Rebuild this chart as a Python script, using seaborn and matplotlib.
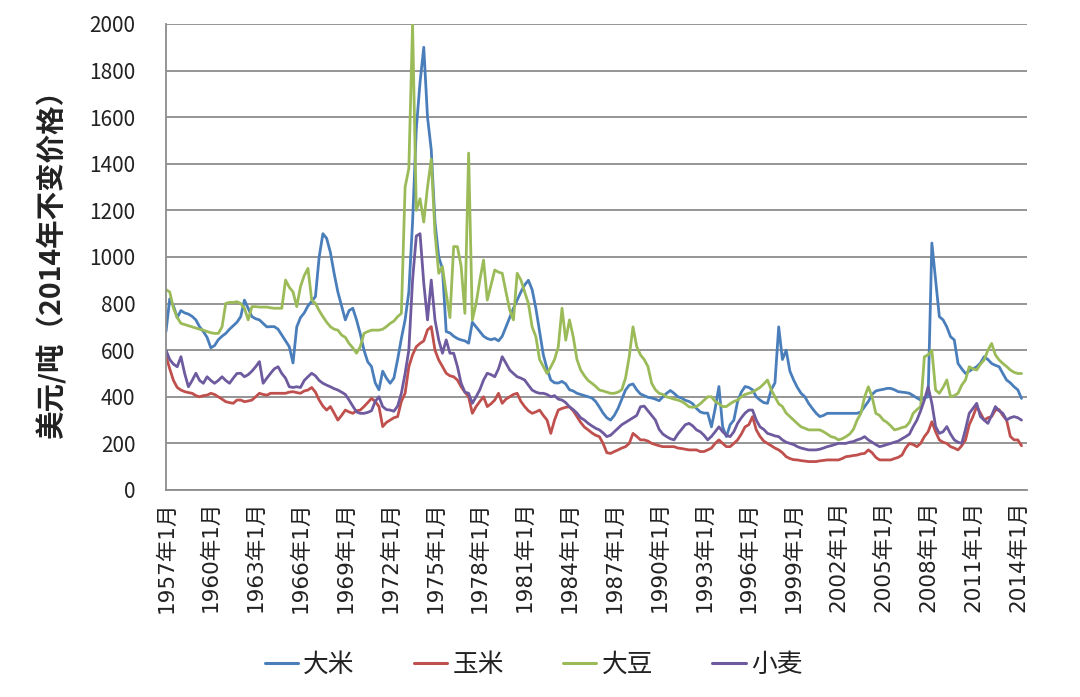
import numpy as np
import pandas as pd
import matplotlib
matplotlib.use("Agg")
import matplotlib.pyplot as plt
from matplotlib.lines import Line2D
import seaborn as sns

# ---------------- data (quarterly, starting 1957 Q1) ----------------
start_year = 1957
rice = [
    680, 820, 790, 740,   770, 760, 755, 745,   730, 700, 680, 655,   610, 620, 645, 660,
    672, 690, 705, 720,   744, 815, 780, 744,   735, 730, 715, 700,   701, 701, 690, 665,
    640, 615, 545, 700,   740, 760, 790, 810,   830, 1000, 1100, 1080, 1020, 930, 850, 790,
    730, 770, 780, 730,   670, 600, 550, 530,   460, 430, 510, 480,   458, 480, 560, 650,
    730, 850, 1150, 1550, 1750, 1900, 1600, 1460, 1150, 1000, 950, 680, 674, 660, 650, 644,
    640, 630, 720, 700,   680, 660, 650, 645,   650, 640, 660, 700,   740, 780, 815, 850,
    880, 900, 860, 780,   680, 580, 520, 472,   460, 459, 466, 455,   430, 425, 415, 410,
    405, 400, 395, 380,   356, 330, 310, 300,   320, 350, 390, 429,   450, 455, 430, 412,
    405, 398, 395, 390,   383, 400, 415, 427,   415, 400, 395, 385,   380, 370, 350, 335,
    330, 330, 271, 350,   444, 271, 229, 280,   300, 380, 420, 444,   440, 430, 400, 386,
    375, 372, 430, 460,   700, 560, 600, 510,   472, 440, 415, 400,   372, 350, 330, 315,
    320, 329, 329, 329,   329, 329, 329, 329,   329, 329, 335, 358,   380, 410, 425, 429,
    432, 436, 436, 430,   422, 420, 418, 415,   405, 395, 386, 395,   400, 1060, 901, 744,
    730, 700, 658, 644,   543, 520, 500, 510,   520, 529, 545, 572,   560, 543, 535, 529,
    500, 472, 460, 443,   430, 393,
]
maize = [
    575, 520, 470, 440,   429, 422, 418, 415,   405, 400, 405, 407,   415, 410, 400, 390,
    379, 375, 372, 386,   386, 379, 382, 386,   400, 415, 410, 407,   415, 415, 415, 415,
    415, 420, 422, 418,   415, 425, 429, 440,   420, 386, 360, 343,   358, 330, 300, 320,
    343, 335, 329, 340,   343, 358, 375, 393,   380, 358, 272, 290,   300, 310, 315, 380,
    415, 529, 580, 615,   629, 640, 687, 701,   600, 558, 530, 501,   490, 486, 472, 443,
    420, 400, 329, 358,   380, 400, 358, 370,   386, 415, 372, 390,   400, 410, 415, 380,
    358, 340, 329, 335,   343, 320, 300, 243,   300, 343, 350, 355,   357, 340, 315, 290,
    270, 258, 245, 235,   229, 200, 160, 157,   165, 172, 180, 186,   200, 243, 230, 215,
    215, 210, 200, 195,   190, 186, 186, 186,   186, 180, 178, 175,   172, 172, 172, 165,
    165, 172, 180, 200,   215, 200, 186, 186,   200, 215, 240, 271,   280, 315, 258, 230,
    210, 200, 190, 180,   172, 160, 143, 135,   130, 129, 126, 124,   122, 122, 122, 125,
    127, 129, 129, 129,   129, 135, 143, 145,   148, 150, 155, 157,   172, 160, 140, 129,
    129, 129, 129, 135,   140, 150, 180, 200,   195, 186, 200, 229,   250, 293, 250, 215,
    205, 200, 186, 180,   172, 190, 215, 280,   315, 358, 330, 300,   310, 315, 343, 345,
    320, 300, 230, 215,   215, 190,
]
soybean = [
    860, 850, 780, 740,   715, 710, 705, 700,   695, 690, 686, 680,   675, 672, 672, 700,
    801, 805, 805, 808,   800, 780, 730, 787,   787, 785, 785, 785,   782, 780, 780, 780,
    901, 870, 850, 787,   873, 920, 951, 815,   801, 770, 744, 720,   701, 690, 686, 665,
    655, 629, 610, 587,   615, 672, 680, 686,   686, 686, 690, 701,   715, 725, 744, 758,
    1300, 1380, 2000, 1200, 1250, 1150, 1300, 1420, 1103, 930, 958, 844, 740, 1045, 1044, 960,
    758, 1446, 730, 800,  900, 987, 815, 880,   944, 935, 930, 850,   773, 730, 930, 901,
    850, 801, 700, 658,   560, 530, 500, 528,   560, 614, 780, 643,   730, 658, 560, 515,
    490, 470, 458, 445,   429, 425, 420, 415,   415, 420, 430, 480,   573, 700, 615, 580,
    560, 530, 458, 430,   415, 410, 400, 395,   390, 386, 380, 370,   357, 355, 358, 370,
    385, 400, 400, 380,   370, 358, 358, 370,   380, 386, 400, 410,   415, 420, 430, 440,
    455, 472, 430, 400,   370, 358, 330, 315,   300, 285, 271, 265,   258, 258, 258, 258,
    250, 240, 229, 225,   215, 220, 229, 240,   260, 300, 329, 400,   443, 400, 329, 320,
    300, 290, 275, 258,   262, 268, 272, 290,   329, 345, 358, 572,   580, 600, 429, 415,
    440, 472, 400, 405,   415, 450, 472, 529,   520, 515, 540, 558,   600, 629, 580, 558,
    543, 530, 515, 505,   500, 500,
]
wheat = [
    600, 560, 540, 529,   572, 500, 443, 470,   501, 470, 458, 486,   470, 458, 470, 486,
    470, 458, 480, 500,   501, 486, 495, 510,   529, 551, 458, 480,   501, 520, 529, 500,
    480, 443, 440, 443,   440, 470, 486, 501,   490, 470, 458, 450,   443, 435, 429, 420,
    410, 386, 360, 335,   329, 329, 333, 340,   380, 400, 358, 345,   343, 338, 360, 415,
    500, 600, 901, 1090,  1100, 887, 730, 901,  730, 644, 587, 644,   587, 587, 530, 458,
    420, 415, 372, 400,   430, 472, 501, 495,   486, 520, 572, 544,   515, 500, 486, 480,
    472, 450, 429, 420,   415, 415, 410, 400,   405, 390, 386, 375,   357, 345, 330, 310,
    300, 286, 275, 265,   258, 245, 229, 235,   250, 265, 280, 290,   300, 310, 320, 357,
    360, 340, 320, 300,   260, 240, 229, 220,   215, 240, 260, 280,   286, 275, 258, 250,
    235, 215, 230, 250,   271, 250, 235, 229,   250, 286, 310, 330,   343, 343, 300, 271,
    260, 243, 238, 232,   229, 215, 205, 200,   195, 186, 180, 176,   172, 172, 172, 175,
    180, 186, 190, 195,   200, 200, 200, 205,   208, 215, 220, 229,   215, 205, 195, 186,
    190, 195, 200, 205,   210, 220, 229, 240,   272, 300, 340, 386,   443, 372, 272, 243,
    250, 272, 240, 215,   205, 200, 260, 329,   350, 372, 315, 300,   286, 320, 358, 340,
    329, 300, 310, 315,   310, 300,
]
series_names = ["大米", "玉米", "大豆", "小麦"]
series_colors = ["#4A7EBB", "#C0504D", "#9BBB59", "#6E5A9E"]
y_ticks = list(range(0, 2001, 200))
tick_years = list(range(1957, 2015, 3))
tick_labels = [f"{y}年1月" for y in tick_years]
y_label = "美元/吨（2014年不变价格）"

# ---------------- build long table ----------------
frames = []
for name, vals in zip(series_names, [rice, maize, soybean, wheat]):
    t = start_year + np.arange(len(vals)) * 0.25
    frames.append(pd.DataFrame({"t": t, "v": vals, "crop": name}))
df = pd.concat(frames, ignore_index=True)

sns.set_theme(style="white")
plt.rcParams["font.family"] = ["Noto Sans CJK SC", "DejaVu Sans"]

fig = plt.figure(figsize=(10.8, 6.97), dpi=100)
ax = fig.add_axes([0.1537, 0.297, 0.797, 0.6686])

sns.lineplot(data=df, x="t", y="v", hue="crop", hue_order=series_names,
             palette=dict(zip(series_names, series_colors)), linewidth=2.0,
             estimator=None, sort=False, legend=False, ax=ax)

ax.set_xlim(1957, 2014.6)
ax.set_ylim(0, 2000)
ax.set_yticks(y_ticks)
ax.set_yticklabels([str(v) for v in y_ticks], fontsize=15, color="#222222")
ax.set_xticks(tick_years)
ax.set_xticklabels(tick_labels, rotation=90, fontsize=15.5, color="#222222",
                   family=["DejaVu Sans", "Noto Sans CJK SC"])
ax.set_xlabel("")
ax.set_ylabel(y_label, fontsize=20.5, fontweight="bold", color="#222222", labelpad=16)

ax.yaxis.grid(True, color="#8C8C8C", linewidth=1.3)
ax.xaxis.grid(False)
ax.set_axisbelow(True)
for side in ["top", "right"]:
    ax.spines[side].set_visible(False)
for side in ["left", "bottom"]:
    ax.spines[side].set_color("#8C8C8C")
    ax.spines[side].set_linewidth(1.3)
ax.tick_params(axis="y", length=0, pad=22)
ax.tick_params(axis="x", direction="in", length=5, color="#8C8C8C", width=1.2, pad=8)

handles = [Line2D([0], [0], color=c, lw=2.2) for c in series_colors]
fig.legend(handles, series_names, loc="center", bbox_to_anchor=(0.494, 0.046),
           ncol=4, frameon=False, fontsize=18.5, handlelength=1.3, handletextpad=0.2,
           columnspacing=2.3, labelcolor="#222222")

fig.savefig("out.png", dpi=100)
